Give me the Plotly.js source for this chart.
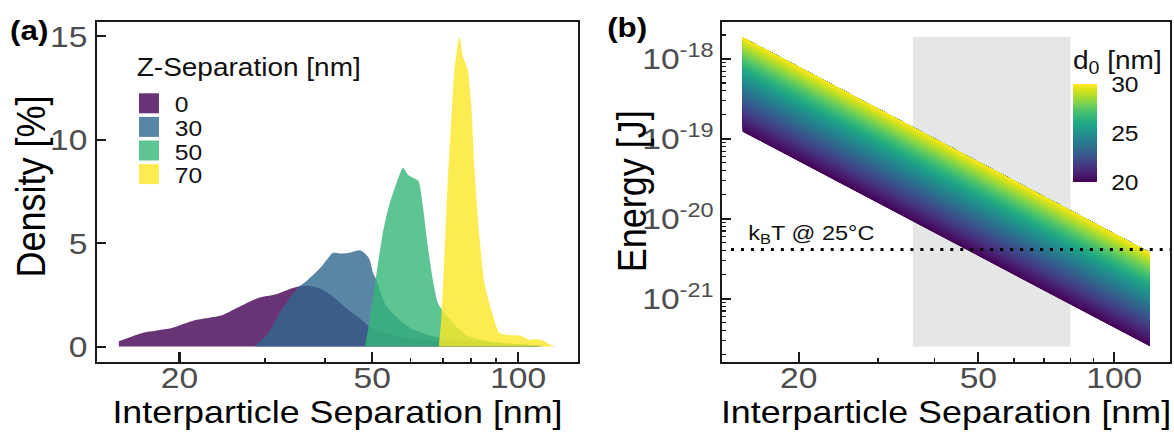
<!DOCTYPE html>
<html>
<head>
<meta charset="utf-8">
<script src="https://cdn.plot.ly/plotly-3.0.1.min.js"></script>
<style>
html, body { margin: 0; padding: 0; background: #ffffff; overflow: hidden; }
#wrap { width: 1174px; height: 436px; overflow: hidden; }
#plot { width: 1048px; height: 436px; transform: scaleX(1.12023); transform-origin: 0 0; }
</style>
</head>
<body>
<div id="wrap"><div id="plot"></div></div>
<script>
// ---------------- DATA: panel (a) density of interparticle separation ----------------
const zSeparations = ['0', '30', '50', '70'];
const sepZ0  = [15.0, 16.4, 17.2, 19.3, 21.5, 24.4, 26.9, 29.1, 31.5, 33.5, 35.4, 36.8, 39.3, 41.8, 44.6, 47.5, 49.8, 53.0, 56.9, 62.0, 68.8, 80.5, 95.0, 110.0];
const densZ0 = [0.25, 0.58, 0.71, 0.90, 1.27, 1.50, 1.98, 2.35, 2.51, 2.75, 2.91, 2.94, 2.78, 2.35, 1.78, 1.30, 0.90, 0.68, 0.50, 0.36, 0.26, 0.19, 0.10, 0.04];
const sepZ30  = [28.6, 30.5, 32.5, 34.6, 35.4, 36.8, 39.3, 41.5, 43.2, 44.6, 47.2, 48.6, 49.4, 50.2, 51.0, 52.2, 53.5, 56.9, 60.7, 66.7, 75.0, 87.3, 100.0, 112.0];
const densZ30 = [0.00, 0.66, 1.78, 2.65, 2.91, 3.22, 3.87, 4.53, 4.50, 4.52, 4.65, 4.44, 4.20, 3.55, 3.23, 2.50, 1.94, 1.30, 0.82, 0.50, 0.33, 0.20, 0.12, 0.05];
const sepZ50  = [48.3, 49.4, 50.8, 52.4, 53.4, 54.5, 56.1, 57.9, 59.3, 61.0, 62.3, 63.6, 65.1, 66.7, 68.3, 70.0, 72.5, 75.0, 79.0, 85.0, 95.0, 110.0];
const densZ50 = [0.00, 1.30, 3.22, 5.30, 6.25, 7.05, 7.90, 8.65, 8.30, 8.14, 8.00, 6.77, 4.84, 3.22, 2.10, 1.70, 1.30, 0.90, 0.50, 0.30, 0.15, 0.05];
const sepZ70  = [68.6, 69.4, 70.5, 71.6, 72.8, 73.9, 75.7, 77.0, 78.7, 80.0, 81.3, 83.2, 85.2, 88.0, 91.6, 96.0, 100.7, 105.6, 109.0, 112.5, 116.0, 119.8];
const densZ70 = [0.00, 1.30, 4.52, 8.06, 10.95, 13.36, 14.97, 14.00, 13.40, 11.76, 8.54, 5.32, 3.07, 1.78, 0.66, 0.56, 0.53, 0.32, 0.35, 0.30, 0.10, 0.00];

// ---------------- DATA: panel (b) energy band vs separation for d0 ----------------
const d0Values    = [20, 21, 22, 23, 24, 25, 26, 27, 28, 29, 30];
const sepEnds     = [15, 120];
const energyAt15  = [1.230e-19, 1.710e-19, 2.339e-19, 3.148e-19, 4.198e-19, 5.521e-19, 7.194e-19, 9.268e-19, 1.183e-18, 1.500e-18, 1.884e-18];
const energyAt120 = [2.512e-22, 3.483e-22, 4.764e-22, 6.397e-22, 8.531e-22, 1.119e-21, 1.459e-21, 1.875e-21, 2.393e-21, 3.027e-21, 3.802e-21];
const kBT25C = 4.12e-21;

// shared
const highlightSep   = [35.8, 80];
const sepTickVals    = [20, 50, 100];
const sepMinorVals   = [30, 40, 60, 70, 80, 90];
const densityTicks   = [0, 5, 10, 15];
const energyTickExps = [-21, -20, -19, -18];
const d0Ticks        = [20, 25, 30];

// ---------------- STYLE ----------------
const zColors = ['rgba(68,1,84,0.8)', 'rgba(49,104,142,0.8)', 'rgba(53,183,121,0.8)', 'rgba(253,231,37,0.8)'];
const FONT = 'Liberation Sans, Arial, sans-serif';
const TICKGRAY = '#4d4d4d';
const W = 1174, H = 436;
const fx = p => p / W;          // reference pixel -> paper x
const fy = p => 1 - p / H;      // reference pixel -> paper y

const sepSeries  = [sepZ0, sepZ30, sepZ50, sepZ70];
const densSeries = [densZ0, densZ30, densZ50, densZ70];

// ranges with 5% expansion like ggplot
const lx0 = Math.log10(Math.min(...sepZ0)), lx1 = Math.log10(Math.max(...sepZ70));
const xPad = 0.05 * (lx1 - lx0);
const xRangeLog = [lx0 - xPad, lx1 + xPad];
const densMax = Math.max(...densSeries.flat());
const yRangeA = [-0.05 * densMax, densMax * 1.05];

const logE15 = energyAt15.map(Math.log10), logE120 = energyAt120.map(Math.log10);
const eMin = Math.min(...logE15, ...logE120), eMax = Math.max(...logE15, ...logE120);
const ePad = 0.05 * (eMax - eMin);
const yRangeB = [eMin - ePad, eMax + ePad];

const traces = [];
sepSeries.forEach((xs, i) => {
  traces.push({
    type: 'scatter', mode: 'none', x: xs, y: densSeries[i], fill: 'tozeroy',
    line: { shape: 'spline', smoothing: 0.6 },
    fillcolor: zColors[i], name: zSeparations[i], showlegend: false,
    xaxis: 'x', yaxis: 'y', hoverinfo: 'skip'
  });
});

// panel (b): carpet spanned by d0 (a) and separation (b), filled by contour of d0
traces.push({
  type: 'carpet', carpet: 'band', a: d0Values, b: sepEnds,
  x: sepEnds.map(r => d0Values.map(() => Math.log10(r))),
  y: [logE15, logE120],
  aaxis: { showgrid: false, showline: false, showticklabels: 'none', startline: false, endline: false, smoothing: 0, minorgridcount: 0 },
  baxis: { showgrid: false, showline: false, showticklabels: 'none', startline: false, endline: false, smoothing: 0, minorgridcount: 0 },
  xaxis: 'x2', yaxis: 'y2', hoverinfo: 'skip'
});
traces.push({
  type: 'contourcarpet', carpet: 'band', a: d0Values, b: sepEnds,
  z: sepEnds.map(() => d0Values.slice()),
  autocontour: false,
  contours: { start: 20, end: 30, size: 0.1, coloring: 'fill', showlines: false },
  line: { width: 0 },
  colorscale: 'Viridis', zmin: 20, zmax: 30,
  xaxis: 'x2', yaxis: 'y2', hoverinfo: 'skip',
  colorbar: {
    x: fx(1073), xanchor: 'left', xref: 'paper', xpad: 0,
    y: fy(182), yanchor: 'bottom', yref: 'paper', ypad: 0,
    len: 135, lenmode: 'pixels', thickness: 21.4, thicknessmode: 'pixels',
    outlinewidth: 0, tickmode: 'array', tickvals: d0Ticks, ticktext: d0Ticks.map(String),
    ticks: 'outside', ticklen: 9, tickcolor: 'rgba(0,0,0,0)', tickwidth: 1,
    tickfont: { family: FONT, size: 22, color: '#111' },
    title: { text: 'd<sub>0</sub> [nm]', side: 'top', font: { family: FONT, size: 25, color: '#111' } }
  }
});

const axisCommon = {
  ticks: 'inside', ticklen: 10, tickwidth: 2, tickcolor: '#1a1a1a',
  showline: true, linecolor: '#1a1a1a', linewidth: 1.5, mirror: true,
  showgrid: false, zeroline: false, automargin: false, fixedrange: true,
  tickfont: { family: FONT, size: 30, color: TICKGRAY }
};
const titleFontX = { family: FONT, size: 32, color: '#000' };
const titleFontY = { family: FONT, size: 36, color: '#000' };
const yDomain = [fy(362), fy(21.5)];

const minorE = [];
for (let n = -22; n <= -18; n++) for (let k = 2; k <= 9; k++) {
  const v = n + Math.log10(k);
  if (v > yRangeB[0] && v < yRangeB[1]) minorE.push(v);
}

const layout = {
  width: 1048, height: 436,
  margin: { l: 0, r: 0, t: 0, b: 0 },
  paper_bgcolor: '#ffffff', plot_bgcolor: 'rgba(0,0,0,0)',
  font: { family: FONT },
  showlegend: false,
  xaxis: Object.assign({}, axisCommon, {
    domain: [fx(97), fx(578)], anchor: 'y', type: 'log', range: xRangeLog,
    tickmode: 'array', tickvals: sepTickVals, ticktext: sepTickVals.map(String), ticklabelstandoff: -11,
    minor: { tickmode: 'array', tickvals: sepMinorVals, ticks: 'inside', ticklen: 4, tickwidth: 1.5, tickcolor: '#1a1a1a', showgrid: false },
    title: { text: 'Interparticle Separation [nm]', font: titleFontX, standoff: 6 }
  }),
  yaxis: Object.assign({}, axisCommon, {
    domain: yDomain, anchor: 'x', range: yRangeA,
    tickmode: 'array', tickvals: densityTicks, ticktext: densityTicks.map(String), ticklen: 8, ticklabelstandoff: 1
  }),
  xaxis2: Object.assign({}, axisCommon, {
    domain: [fx(722), fx(1170)], anchor: 'y2', range: xRangeLog,
    tickmode: 'array', tickvals: sepTickVals.map(Math.log10), ticktext: sepTickVals.map(String), ticklabelstandoff: -11,
    minor: { tickmode: 'array', tickvals: sepMinorVals.map(Math.log10), ticks: 'inside', ticklen: 4, tickwidth: 1.5, tickcolor: '#1a1a1a', showgrid: false },
    title: { text: 'Interparticle Separation [nm]', font: titleFontX, standoff: 6 }
  }),
  yaxis2: Object.assign({}, axisCommon, {
    domain: yDomain, anchor: 'x2', range: yRangeB,
    tickmode: 'array', tickvals: energyTickExps, ticktext: energyTickExps.map(e => '10<sup>' + e + '</sup>'),
    ticklen: 8, ticklabelstandoff: 0,
    minor: { tickmode: 'array', tickvals: minorE, ticks: 'inside', ticklen: 4, tickwidth: 1.2, tickcolor: '#1a1a1a', showgrid: false }
  }),
  shapes: [
    { type: 'rect', xref: 'x', yref: 'y', layer: 'below',
      x0: Math.log10(highlightSep[0]), x1: Math.log10(highlightSep[1]), y0: 0, y1: densMax,
      fillcolor: '#e5e6e6', line: { width: 0 } },
    { type: 'rect', xref: 'x2', yref: 'y2', layer: 'below',
      x0: Math.log10(highlightSep[0]), x1: Math.log10(highlightSep[1]), y0: eMin, y1: eMax,
      fillcolor: '#e5e6e6', line: { width: 0 } },
    { type: 'line', xref: 'x2 domain', yref: 'y2', x0: 0.02, x1: 1, y0: Math.log10(kBT25C), y1: Math.log10(kBT25C),
      line: { color: '#000', width: 3, dash: '2.7px,6.2px' } }
  ],
  annotations: [
    { text: 'Density [%]', xref: 'paper', yref: 'paper', x: fx(32), y: fy(187), xanchor: 'center', yanchor: 'middle',
      textangle: -90, showarrow: false, font: titleFontY },
    { text: 'Energy [J]', xref: 'paper', yref: 'paper', x: fx(631), y: fy(191), xanchor: 'center', yanchor: 'middle',
      textangle: -90, showarrow: false, font: titleFontY },
    { text: '<b>(a)</b>', xref: 'paper', yref: 'paper', x: fx(8), y: fy(30), xanchor: 'left', yanchor: 'middle',
      showarrow: false, font: { family: FONT, size: 28, color: '#000' } },
    { text: '<b>(b)</b>', xref: 'paper', yref: 'paper', x: fx(605), y: fy(27), xanchor: 'left', yanchor: 'middle',
      showarrow: false, font: { family: FONT, size: 28, color: '#000' } },
    { text: 'Z-Separation [nm]', xref: 'paper', yref: 'paper', x: fx(134), y: fy(67), xanchor: 'left', yanchor: 'middle',
      showarrow: false, font: { family: FONT, size: 25, color: '#111' } },
    { text: 'k<sub>B</sub>T @ 25°C', xref: 'paper', yref: 'y2', x: fx(746), y: Math.log10(kBT25C), xanchor: 'left', yanchor: 'bottom',
      yshift: 0, showarrow: false, font: { family: FONT, size: 21, color: '#111' } }
  ]
};

// manual legend (keys + labels) for panel (a)
zSeparations.forEach((lab, i) => {
  const cy = 103.3 + i * 23.6;
  layout.shapes.push({ type: 'rect', xref: 'paper', yref: 'paper', x0: fx(139), x1: fx(159), y0: fy(cy + 10), y1: fy(cy - 10),
    fillcolor: zColors[i], line: { width: 0 } });
  layout.annotations.push({ text: lab, xref: 'paper', yref: 'paper', x: fx(173), y: fy(cy + 1.5), xanchor: 'left', yanchor: 'middle',
    showarrow: false, font: { family: FONT, size: 22, color: '#111' } });
});

Plotly.newPlot('plot', traces, layout, { displayModeBar: false, staticPlot: true });
</script>
</body>
</html>
